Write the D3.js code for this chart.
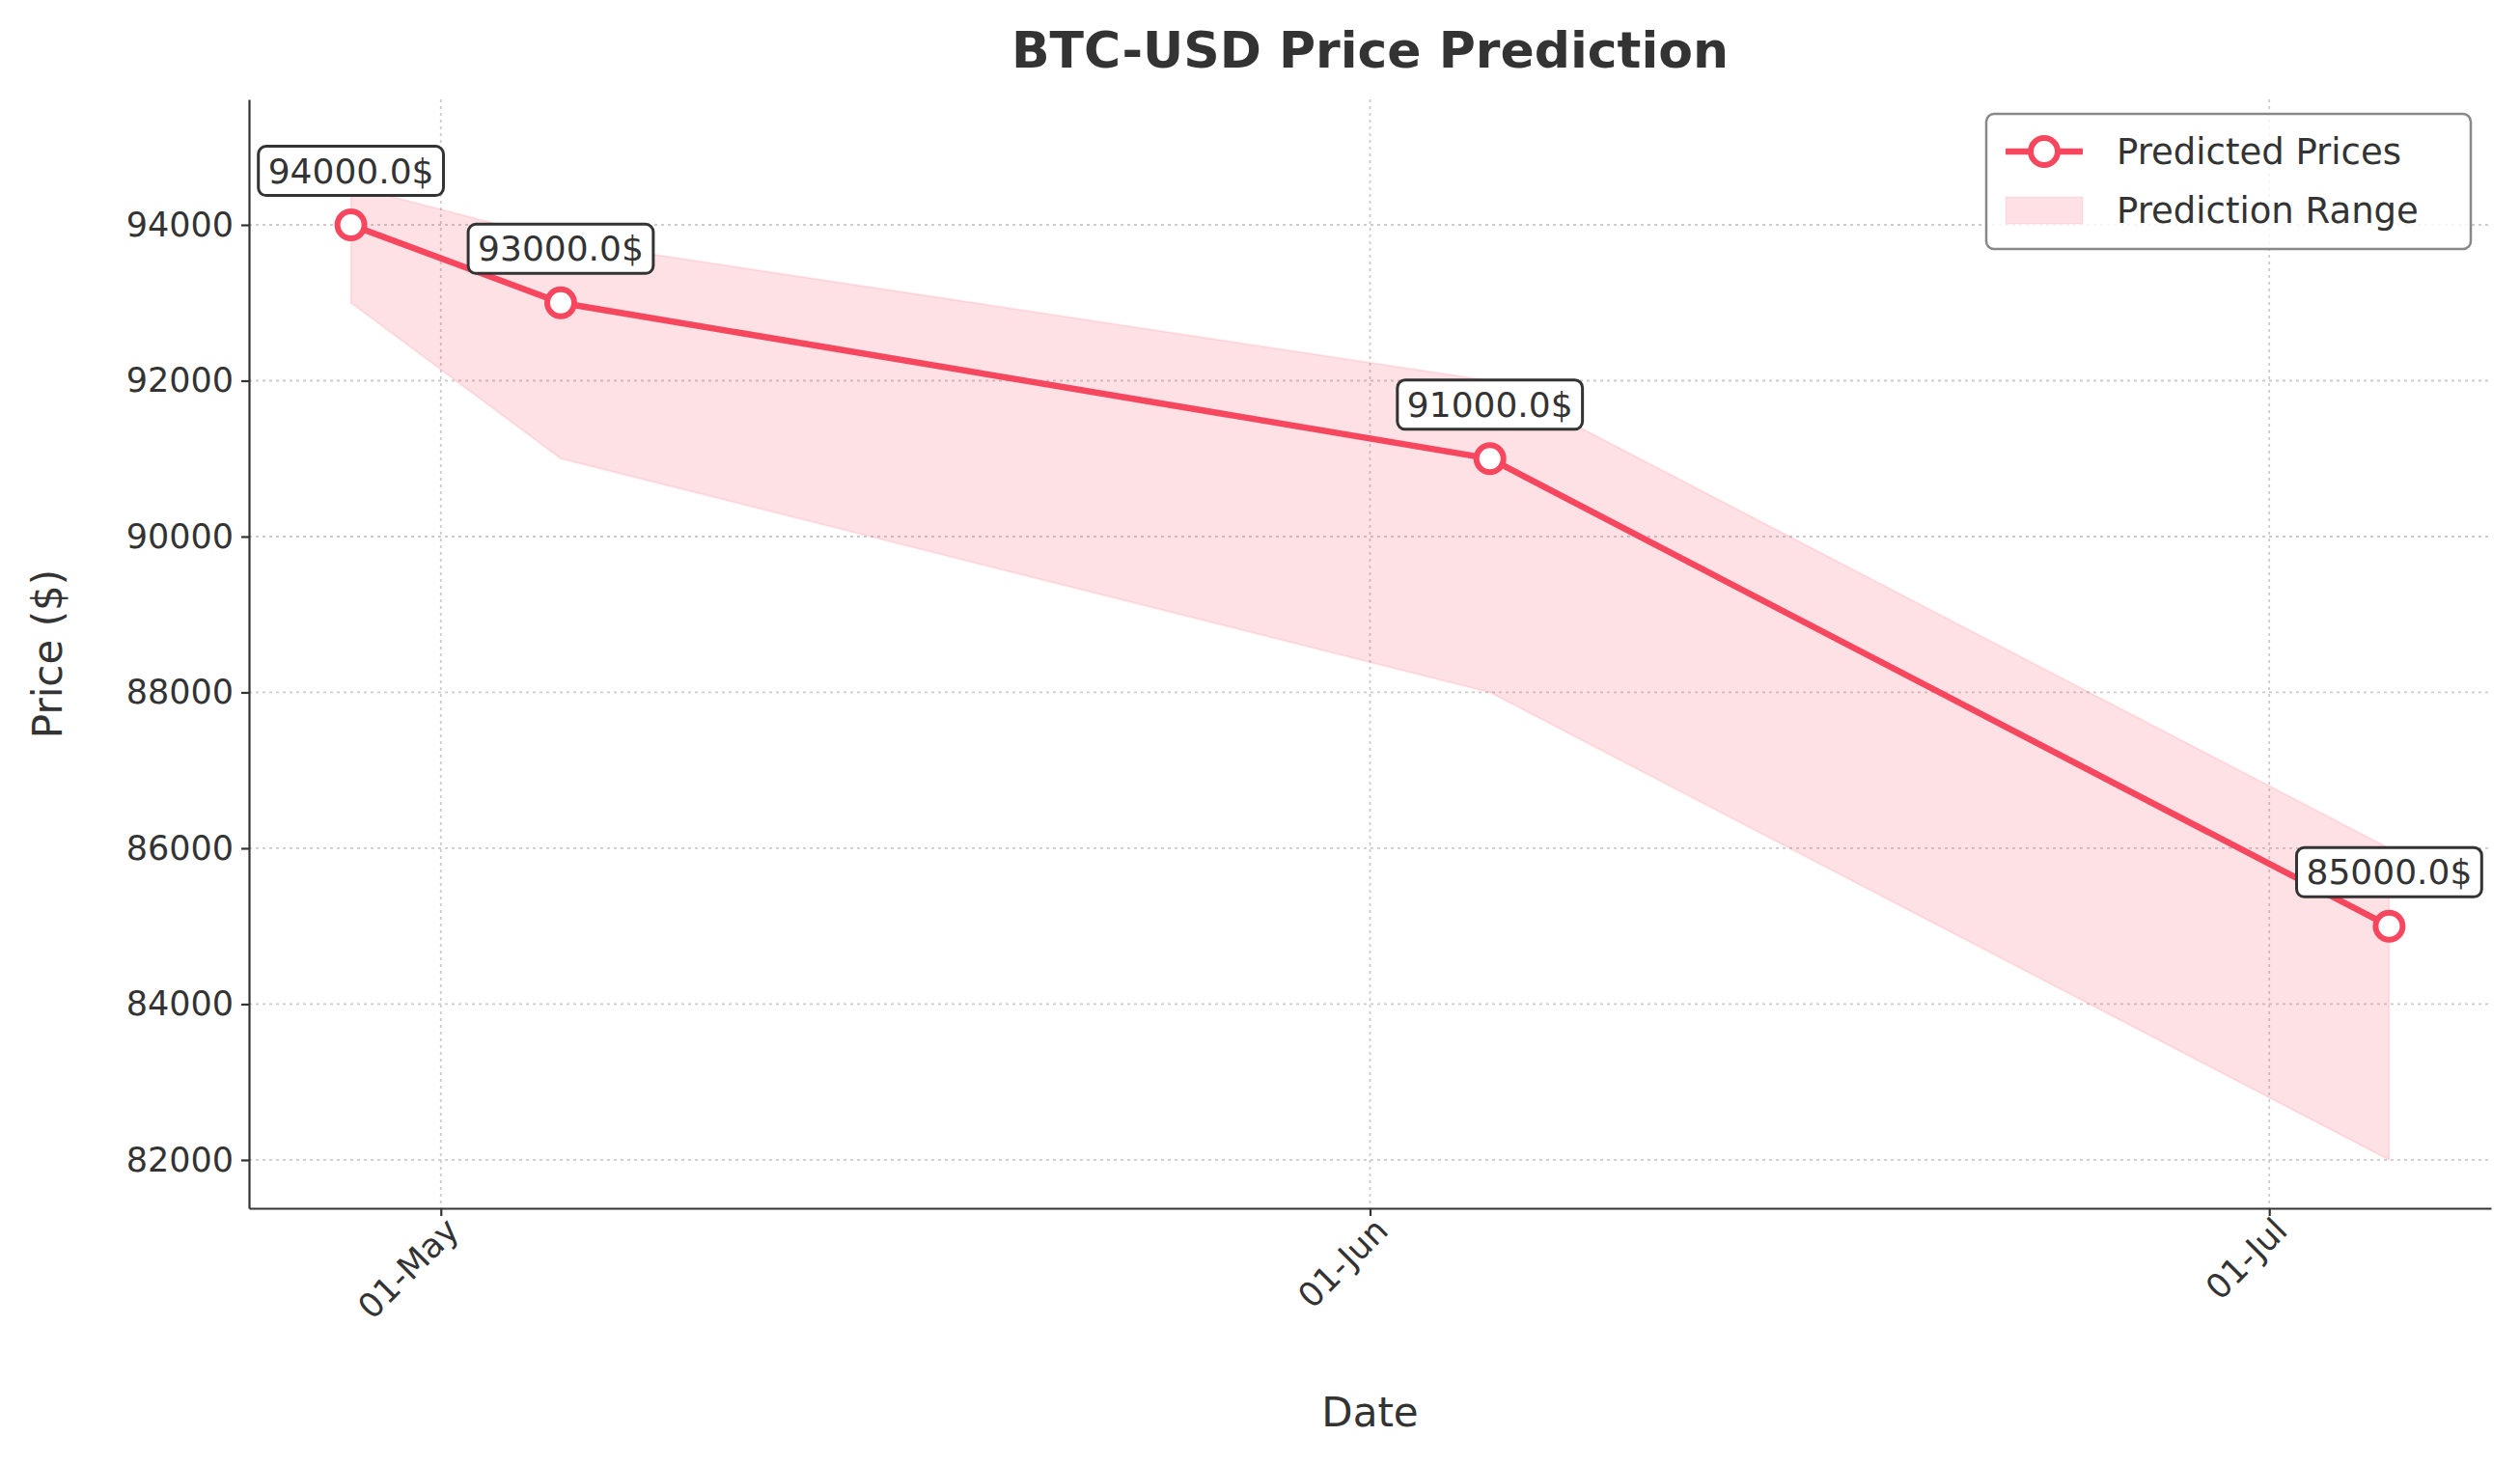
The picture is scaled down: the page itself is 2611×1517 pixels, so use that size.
<!DOCTYPE html>
<html lang="en">
<head>
<meta charset="UTF-8">
<script src="https://d3js.org/d3.v7.min.js"></script>
<style>
  body { margin: 0; background: #fff; }
  text { font-family: "DejaVu Sans", sans-serif; fill: #333; }
</style>
</head>
<body>
<script>
    // chart data
    var dates = ["2025-04-28", "2025-05-05", "2025-06-05", "2025-07-05"];
    var predicted = [94000, 93000, 91000, 85000];
    var upper = [94500, 93800, 92000, 86000];
    var lower = [93000, 91000, 88000, 82000];
    var yTicks = [82000, 84000, 86000, 88000, 90000, 92000, 94000];
    var xTicks = ["2025-05-01", "2025-06-01", "2025-07-01"];

    var width = 2611, height = 1517;
    var m = { left: 258, right: 30, top: 103, bottom: 265 };
    var parse = d3.timeParse("%Y-%m-%d");
    var color = "#f7475f";

    var svg = d3.select("body").append("svg")
        .attr("width", width)
        .attr("height", height);

    var t0 = parse(dates[0]), t1 = parse(dates[dates.length - 1]);
    var pad = (t1 - t0) * 0.05;
    var x = d3.scaleTime()
        .domain([new Date(+t0 - pad), new Date(+t1 + pad)])
        .range([m.left, width - m.right]);
    var y = d3.scaleLinear()
        .domain([81380, 95610])
        .range([height - m.bottom, m.top]);

    var data = dates.map(function (d, i) {
        return { t: parse(d), p: predicted[i], hi: upper[i], lo: lower[i] };
    });

    // grid
    var grid = svg.append("g").attr("stroke", "#ccc").attr("stroke-dasharray", "3,4").attr("stroke-width", 1.8);
    yTicks.forEach(function (v) {
        grid.append("line").attr("x1", m.left).attr("x2", width - m.right).attr("y1", y(v)).attr("y2", y(v));
    });
    xTicks.forEach(function (d) {
        grid.append("line").attr("x1", x(parse(d))).attr("x2", x(parse(d))).attr("y1", m.top).attr("y2", height - m.bottom);
    });

    // band
    svg.append("path").datum(data)
        .attr("d", d3.area().x(function (d) { return x(d.t); }).y0(function (d) { return y(d.lo); }).y1(function (d) { return y(d.hi); }))
        .attr("fill", color).attr("fill-opacity", 0.16)
        .attr("stroke", color).attr("stroke-opacity", 0.12).attr("stroke-width", 2);

    // line
    svg.append("path").datum(data)
        .attr("d", d3.line().x(function (d) { return x(d.t); }).y(function (d) { return y(d.p); }))
        .attr("fill", "none").attr("stroke", color).attr("stroke-width", 6.5);

    svg.selectAll("circle.pt").data(data).enter().append("circle")
        .attr("cx", function (d) { return x(d.t); })
        .attr("cy", function (d) { return y(d.p); })
        .attr("r", 14).attr("fill", "#fff").attr("stroke", color).attr("stroke-width", 6);

    // axes
    var yAxis = svg.append("g").attr("transform", "translate(" + m.left + ",0)")
        .call(d3.axisLeft(y).tickValues(yTicks).tickSize(8).tickSizeOuter(0).tickPadding(8).tickFormat(d3.format("d")));
    var xAxis = svg.append("g").attr("transform", "translate(0," + (height - m.bottom) + ")")
        .call(d3.axisBottom(x).tickValues(xTicks.map(parse)).tickSize(8).tickSizeOuter(0).tickFormat(d3.timeFormat("%d-%b")));
    [xAxis, yAxis].forEach(function (a) {
        a.selectAll("path, line").attr("stroke", "#333").attr("stroke-width", 2.2);
        a.selectAll("text").style("font-size", "35px").style("font-family", "DejaVu Sans").attr("fill", "#333");
    });
    xAxis.selectAll("text")
        .attr("text-anchor", "end")
        .attr("dx", "-0.1em").attr("dy", "0.6em")
        .attr("transform", "rotate(-45)");

    // labels
    var annot = svg.append("g");
    data.forEach(function (d) {
        var g = annot.append("g").attr("transform", "translate(" + x(d.t) + "," + (y(d.p) - 56) + ")");
        var txt = g.append("text").attr("text-anchor", "middle").attr("dy", "0.35em")
            .style("font-size", "36px").text(d.p.toFixed(1) + "$");
        var bb = txt.node().getBBox();
        g.insert("rect", "text")
            .attr("x", bb.x - 10).attr("y", bb.y - 5).attr("width", bb.width + 20).attr("height", bb.height + 10)
            .attr("rx", 8).attr("fill", "#fff").attr("stroke", "#333").attr("stroke-width", 3);
    });

    svg.append("text").attr("x", (m.left + width - m.right) / 2).attr("y", 70)
        .attr("text-anchor", "middle").style("font-size", "52px").style("font-weight", "bold")
        .text("BTC-USD Price Prediction");
    svg.append("text").attr("x", (m.left + width - m.right) / 2).attr("y", 1478)
        .attr("text-anchor", "middle").style("font-size", "42px").text("Date");
    svg.append("text").attr("transform", "translate(64," + ((m.top + height - m.bottom) / 2) + ") rotate(-90)")
        .attr("text-anchor", "middle").style("font-size", "42px").text("Price ($)");

    // legend
    var lg = svg.append("g").attr("transform", "translate(2058,118)");
    lg.append("rect").attr("width", 502).attr("height", 140).attr("rx", 8)
        .attr("fill", "#fff").attr("fill-opacity", 0.8).attr("stroke", "#888").attr("stroke-width", 2.5);
    lg.append("line").attr("x1", 20).attr("x2", 100).attr("y1", 39).attr("y2", 39).attr("stroke", color).attr("stroke-width", 6.5);
    lg.append("circle").attr("cx", 60).attr("cy", 39).attr("r", 14).attr("fill", "#fff").attr("stroke", color).attr("stroke-width", 6);
    lg.append("rect").attr("x", 20).attr("y", 86).attr("width", 80).attr("height", 28)
        .attr("fill", color).attr("fill-opacity", 0.16).attr("stroke", color).attr("stroke-opacity", 0.12);
    lg.append("text").attr("x", 135).attr("y", 52).style("font-size", "37px").text("Predicted Prices");
    lg.append("text").attr("x", 135).attr("y", 113).style("font-size", "37px").text("Prediction Range");
</script>
</body>
</html>
